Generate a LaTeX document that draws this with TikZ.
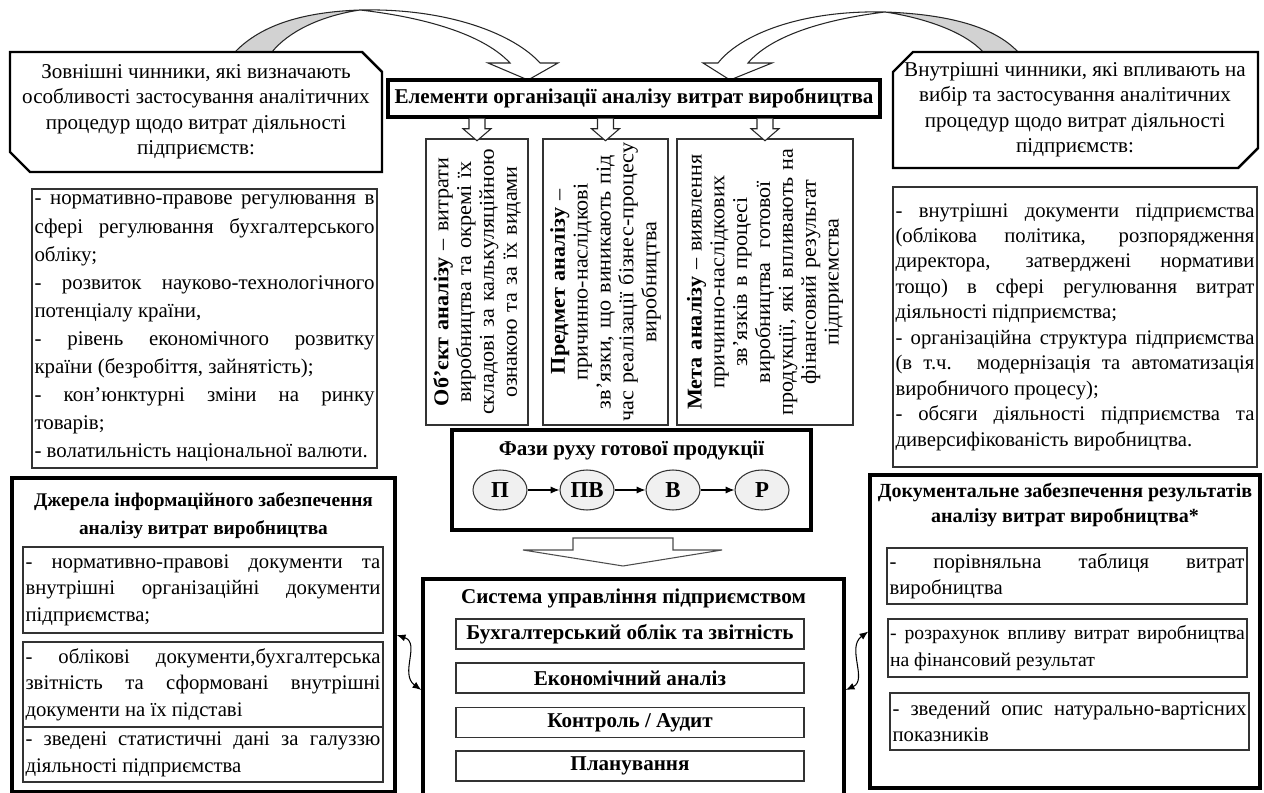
\documentclass[tikz,border=0pt]{standalone}
\usepackage{fontspec}
\setmainfont{Liberation Serif}
\newfontfamily\vfont[FakeStretch=1.05]{Liberation Serif}
\usetikzlibrary{arrows.meta,shapes.geometric}
\hyphenpenalty=10000
\exhyphenpenalty=10000
\setlength{\parindent}{0pt}
\newcommand\fsb[2]{\fontsize{#1}{#2}\selectfont}
\begin{document}
\begin{tikzpicture}[x=0.02cm,y=-0.02cm,
 thinb/.style={draw=black!80,line width=0.7pt,inner sep=0pt},
 thickb/.style={draw=black,line width=2pt,inner sep=0pt},
 chamf/.style={draw=black,line width=1.4pt},
 hol/.style={draw=black!85,line width=0.6pt,fill=white,line join=miter},
 ph/.style={ellipse,draw=black!80,line width=0.6pt,fill=gray!12,minimum width=1.08cm,minimum height=0.8cm,inner sep=0pt,font=\fsb{13}{14}\bfseries},
 vb/.style={thinb,minimum height=5.72cm},
 rt/.style={rotate=90,inner sep=0pt,text width=6.2cm,align=center,font=\vfont\fsb{12}{13}},
 jb/.style={thinb,align=justify,font=\fsb{11.8}{15}},
 sb/.style={thinb,minimum width=6.96cm,minimum height=0.6cm,font=\fsb{12}{14}\bfseries},
 link/.style={line width=0.6pt,{Latex[length=5pt,width=4pt]}-{Latex[length=5pt,width=4pt]}}
]
\useasboundingbox (0,0) rectangle (1264,793);
\fill[white] (0,0) rectangle (1264,793);

% curved arrows
\draw[hol,fill=gray!35] (235,52) .. controls (262,24) and (305,12) .. (360,10) .. controls (320,16) and (288,32) .. (272,52) -- cycle;
\draw[hol] (360,10) .. controls (450,8) and (515,35) .. (540,63) -- (558,63) -- (528,80) -- (488,63) -- (510,63) .. controls (485,36) and (430,18) .. (360,10) -- cycle;
\draw[hol,fill=gray!35] (1018,52) .. controls (992,24) and (940,14) .. (885,12) .. controls (925,18) and (965,32) .. (983,52) -- cycle;
\draw[hol] (885,12) .. controls (800,10) and (740,35) .. (718,63) -- (703,63) -- (730,80) -- (772,63) -- (748,63) .. controls (770,37) and (820,20) .. (885,12) -- cycle;

% chamfered factor boxes
\draw[chamf,fill=white] (10,52) -- (362,52) -- (382,72) -- (382,172) -- (30,172) -- (10,152) -- cycle;
\node[font=\fsb{12}{14.5},align=center,inner sep=0pt] (extL) at (196,112) {Зовнішні чинники, які визначають\\особливості застосування аналітичних\\процедур щодо витрат діяльності\\підприємств:};
\draw[chamf,fill=white] (913,52) -- (1258,52) -- (1258,148) -- (1238,168) -- (893,168) -- (893,72) -- cycle;
\node[font=\fsb{12}{14.5},align=center,inner sep=0pt] (intL) at (1075,110) {Внутрішні чинники, які впливають на\\вибір та застосування аналітичних\\процедур щодо витрат діяльності\\підприємств:};

% vertical boxes
\node[vb,minimum width=2.04cm] (v1) at (477,282) {};
\node[vb,minimum width=2.5cm] (v2) at (605.5,282) {};
\node[vb,minimum width=3.52cm] (v3) at (765,282) {};
\node[rt] (v1t) at (v1.center) {{\bfseries Об’єкт аналізу} – витрати\\виробництва та окремі їх\\складові за калькуляційною\\ознакою та за їх видами};
\node[rt] (v2t) at (v2.center) {{\bfseries Предмет аналізу} –\\причинно-наслідкові\\зв’язки, що виникають під\\час реалізації бізнес-процесу\\виробництва};
\node[rt] (v3t) at (v3.center) {{\bfseries Мета аналізу} – виявлення\\причинно-наслідкових\\зв’язків в процесі\\виробництва\ \ готової\\продукції, які впливають на\\фінансовий результат\\підприємства};

% title
\node[thickb,minimum width=9.84cm,minimum height=0.74cm,fill=white,font=\fsb{12}{14}\bfseries] (title) at (634,98.5) {Елементи організації аналізу витрат виробництва};
\foreach \v in {v1,v2,v3}
  \draw[hol] (title.south -| \v.center) ++(-8,0) -- ++(0,10) -- ++(-6,0) -- ++(14,12) -- ++(14,-12) -- ++(-6,0) -- ++(0,-10);

% external / internal factor lists
\node[jb,minimum width=6.9cm,minimum height=5.58cm,text width=6.8cm,font=\fsb{11.9}{16}] (extT) at (204.5,328.5) {- нормативно-правове регулювання в\linebreak сфері регулювання бухгалтерського\linebreak обліку;\par - розвиток науково-технологічного\linebreak потенціалу країни,\par - рівень економічного розвитку\linebreak країни (безробіття, зайнятість);\par - кон’юнктурні зміни на ринку\linebreak товарів;\par - волатильність національної валюти.};
\node[jb,minimum width=7.28cm,minimum height=5.6cm,text width=7.18cm,font=\fsb{11.8}{14.5}] (intT) at (1075,327) {- внутрішні документи підприємства\linebreak (облікова політика, розпорядження\linebreak директора, затверджені нормативи\linebreak тощо) в сфері регулювання витрат\linebreak діяльності підприємства;\par - організаційна структура підприємства\linebreak (в т.ч. модернізація та автоматизація\linebreak виробничого процесу);\par - обсяги діяльності підприємства та\linebreak диверсифікованість виробництва.};

% phases
\node[thickb,minimum width=7.18cm,minimum height=2cm] (fz) at (631.5,480) {};
\node[font=\fsb{12}{14}\bfseries] (fzt) at (631.5,450) {Фази руху готової продукції};
\node[ph] (p1) at (500,490) {П};
\node[ph] (p2) at (587,490) {ПВ};
\node[ph] (p3) at (673,490) {В};
\node[ph] (p4) at (762,490) {Р};
\foreach \a/\b in {p1/p2,p2/p3,p3/p4}
  \draw[line width=0.6pt,-{Latex[length=5pt,width=4pt]}] (\a) -- (\b);

% big hollow arrow
\draw[hol,draw=black!70] (573,538) -- (673,538) -- (673,550) -- (722,550) -- (623,566) -- (523,550) -- (573,550) -- cycle;

% management system
\node[thickb,minimum width=8.42cm,minimum height=4.44cm] (sys) at (633.5,690) {};
\node[font=\fsb{12}{14}\bfseries] (syst) at (633.5,598) {Система управління підприємством};
\node[sb] (s1) at (630,634) {Бухгалтерський облік та звітність};
\node[sb] (s2) at (630,678) {Економічний аналіз};
\node[sb] (s3) at (630,722.5) {Контроль / Аудит};
\node[sb] (s4) at (630,766) {Планування};

% sources
\node[thickb,minimum width=7.66cm,minimum height=6.28cm] (src) at (203.5,635) {};
\node[font=\fsb{11}{16}\bfseries,align=center] (srct) at (203.5,516) {Джерела інформаційного забезпечення\\аналізу витрат виробництва};
\node[jb,minimum width=7.2cm,minimum height=1.72cm,text width=7.1cm] (b1) at (203,590) {- нормативно-правові документи та\linebreak внутрішні організаційні документи\linebreak підприємства;};
\node[jb,minimum width=7.2cm,minimum height=1.7cm,text width=7.1cm] (b2) at (203,684.5) {- облікові документи,бухгалтерська\linebreak звітність та сформовані внутрішні\linebreak документи на їх підставі};
\node[jb,minimum width=7.2cm,minimum height=1.1cm,text width=7.1cm] (b3) at (203,754.5) {- зведені статистичні дані за галуззю\linebreak діяльності підприємства};

% documents
\node[thickb,minimum width=7.8cm,minimum height=6.26cm] (doc) at (1065,631.5) {};
\node[font=\fsb{11.4}{14.5}\bfseries,align=center] (doct) at (1065,505) {Документальне забезпечення результатів\\аналізу витрат виробництва*};
\node[jb,minimum width=7.2cm,minimum height=1.12cm,text width=7.1cm] (d1) at (1067,576) {- порівняльна таблиця витрат\linebreak виробництва};
\node[jb,minimum width=7.18cm,minimum height=1.16cm,text width=7.1cm,font=\fsb{11.2}{15}] (d2) at (1067.5,648) {- розрахунок впливу витрат виробництва\linebreak на фінансовий результат};
\node[jb,minimum width=7.18cm,minimum height=1.14cm,text width=7.08cm] (d3) at (1069.5,721.5) {- зведений опис натурально-вартісних\linebreak показників};

% links
\draw[link] (src.east) .. controls +(24,8) and +(-22,-16) .. (sys.west);
\draw[link] (sys.east) .. controls +(22,-10) and +(-22,16) .. (doc.west);
\end{tikzpicture}
\end{document}
